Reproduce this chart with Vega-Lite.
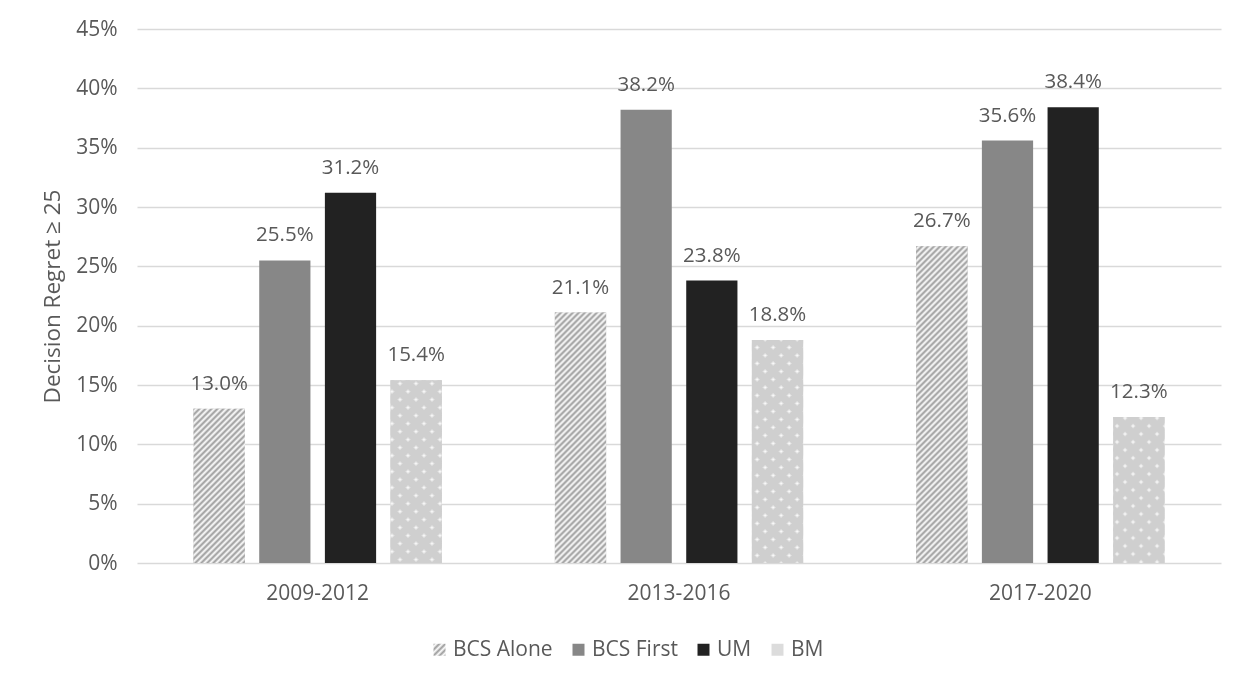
{
  "$schema": "https://vega.github.io/schema/vega-lite/v6.json",
  "width": 1084,
  "height": 534,
  "autosize": {"type": "none"},
  "padding": {"left": 137, "top": 29, "right": 26, "bottom": 123},
  "background": "white",
  "params": [
    {"name": "hatchStops", "value": [
      {"offset":0,"color":"#999"},{"offset":0.008,"color":"#fff"},{"offset":0.016,"color":"#999"},{"offset":0.024,"color":"#fff"},{"offset":0.032,"color":"#999"},{"offset":0.04,"color":"#fff"},{"offset":0.048,"color":"#999"},{"offset":0.056,"color":"#fff"},{"offset":0.064,"color":"#999"},{"offset":0.072,"color":"#fff"},{"offset":0.08,"color":"#999"},{"offset":0.088,"color":"#fff"},{"offset":0.096,"color":"#999"},{"offset":0.104,"color":"#fff"},{"offset":0.112,"color":"#999"},{"offset":0.12,"color":"#fff"},{"offset":0.128,"color":"#999"},{"offset":0.136,"color":"#fff"},{"offset":0.144,"color":"#999"},{"offset":0.152,"color":"#fff"},{"offset":0.16,"color":"#999"},{"offset":0.168,"color":"#fff"},{"offset":0.176,"color":"#999"},{"offset":0.184,"color":"#fff"},{"offset":0.192,"color":"#999"},
      {"offset":0.2,"color":"#fff"},{"offset":0.208,"color":"#999"},{"offset":0.216,"color":"#fff"},{"offset":0.224,"color":"#999"},{"offset":0.232,"color":"#fff"},{"offset":0.24,"color":"#999"},{"offset":0.248,"color":"#fff"},{"offset":0.256,"color":"#999"},{"offset":0.264,"color":"#fff"},{"offset":0.272,"color":"#999"},{"offset":0.28,"color":"#fff"},{"offset":0.288,"color":"#999"},{"offset":0.296,"color":"#fff"},{"offset":0.304,"color":"#999"},{"offset":0.312,"color":"#fff"},{"offset":0.32,"color":"#999"},{"offset":0.328,"color":"#fff"},{"offset":0.336,"color":"#999"},{"offset":0.344,"color":"#fff"},{"offset":0.352,"color":"#999"},{"offset":0.36,"color":"#fff"},{"offset":0.368,"color":"#999"},{"offset":0.376,"color":"#fff"},{"offset":0.384,"color":"#999"},{"offset":0.392,"color":"#fff"},
      {"offset":0.4,"color":"#999"},{"offset":0.408,"color":"#fff"},{"offset":0.416,"color":"#999"},{"offset":0.424,"color":"#fff"},{"offset":0.432,"color":"#999"},{"offset":0.44,"color":"#fff"},{"offset":0.448,"color":"#999"},{"offset":0.456,"color":"#fff"},{"offset":0.464,"color":"#999"},{"offset":0.472,"color":"#fff"},{"offset":0.48,"color":"#999"},{"offset":0.488,"color":"#fff"},{"offset":0.496,"color":"#999"},{"offset":0.504,"color":"#fff"},{"offset":0.512,"color":"#999"},{"offset":0.52,"color":"#fff"},{"offset":0.528,"color":"#999"},{"offset":0.536,"color":"#fff"},{"offset":0.544,"color":"#999"},{"offset":0.552,"color":"#fff"},{"offset":0.56,"color":"#999"},{"offset":0.568,"color":"#fff"},{"offset":0.576,"color":"#999"},{"offset":0.584,"color":"#fff"},{"offset":0.592,"color":"#999"},
      {"offset":0.6,"color":"#fff"},{"offset":0.608,"color":"#999"},{"offset":0.616,"color":"#fff"},{"offset":0.624,"color":"#999"},{"offset":0.632,"color":"#fff"},{"offset":0.64,"color":"#999"},{"offset":0.648,"color":"#fff"},{"offset":0.656,"color":"#999"},{"offset":0.664,"color":"#fff"},{"offset":0.672,"color":"#999"},{"offset":0.68,"color":"#fff"},{"offset":0.688,"color":"#999"},{"offset":0.696,"color":"#fff"},{"offset":0.704,"color":"#999"},{"offset":0.712,"color":"#fff"},{"offset":0.72,"color":"#999"},{"offset":0.728,"color":"#fff"},{"offset":0.736,"color":"#999"},{"offset":0.744,"color":"#fff"},{"offset":0.752,"color":"#999"},{"offset":0.76,"color":"#fff"},{"offset":0.768,"color":"#999"},{"offset":0.776,"color":"#fff"},{"offset":0.784,"color":"#999"},{"offset":0.792,"color":"#fff"},
      {"offset":0.8,"color":"#999"},{"offset":0.808,"color":"#fff"},{"offset":0.816,"color":"#999"},{"offset":0.824,"color":"#fff"},{"offset":0.832,"color":"#999"},{"offset":0.84,"color":"#fff"},{"offset":0.848,"color":"#999"},{"offset":0.856,"color":"#fff"},{"offset":0.864,"color":"#999"},{"offset":0.872,"color":"#fff"},{"offset":0.88,"color":"#999"},{"offset":0.888,"color":"#fff"},{"offset":0.896,"color":"#999"},{"offset":0.904,"color":"#fff"},{"offset":0.912,"color":"#999"},{"offset":0.92,"color":"#fff"},{"offset":0.928,"color":"#999"},{"offset":0.936,"color":"#fff"},{"offset":0.944,"color":"#999"},{"offset":0.952,"color":"#fff"},{"offset":0.96,"color":"#999"},{"offset":0.968,"color":"#fff"},{"offset":0.976,"color":"#999"},{"offset":0.984,"color":"#fff"},{"offset":0.992,"color":"#999"},{"offset":1,"color":"#fff"}
    ]},
    {"name": "dotStops", "value": [
      {"offset":0,"color":"#cfcfcf"},{"offset":0.03,"color":"#cfcfcf"},{"offset":0.04,"color":"#fff"},
      {"offset":0.05,"color":"#cfcfcf"},{"offset":0.08,"color":"#cfcfcf"},{"offset":0.09,"color":"#fff"},
      {"offset":0.1,"color":"#cfcfcf"},{"offset":0.13,"color":"#cfcfcf"},{"offset":0.14,"color":"#fff"},
      {"offset":0.15,"color":"#cfcfcf"},{"offset":0.18,"color":"#cfcfcf"},{"offset":0.19,"color":"#fff"},
      {"offset":0.2,"color":"#cfcfcf"},{"offset":0.23,"color":"#cfcfcf"},{"offset":0.24,"color":"#fff"},
      {"offset":0.25,"color":"#cfcfcf"},{"offset":0.28,"color":"#cfcfcf"},{"offset":0.29,"color":"#fff"},
      {"offset":0.3,"color":"#cfcfcf"},{"offset":0.33,"color":"#cfcfcf"},{"offset":0.34,"color":"#fff"},
      {"offset":0.35,"color":"#cfcfcf"},{"offset":0.38,"color":"#cfcfcf"},{"offset":0.39,"color":"#fff"},
      {"offset":0.4,"color":"#cfcfcf"},{"offset":0.43,"color":"#cfcfcf"},{"offset":0.44,"color":"#fff"},
      {"offset":0.45,"color":"#cfcfcf"},{"offset":0.48,"color":"#cfcfcf"},{"offset":0.49,"color":"#fff"},
      {"offset":0.5,"color":"#cfcfcf"},{"offset":0.53,"color":"#cfcfcf"},{"offset":0.54,"color":"#fff"},
      {"offset":0.55,"color":"#cfcfcf"},{"offset":0.58,"color":"#cfcfcf"},{"offset":0.59,"color":"#fff"},
      {"offset":0.6,"color":"#cfcfcf"},{"offset":0.63,"color":"#cfcfcf"},{"offset":0.64,"color":"#fff"},
      {"offset":0.65,"color":"#cfcfcf"},{"offset":0.68,"color":"#cfcfcf"},{"offset":0.69,"color":"#fff"},
      {"offset":0.7,"color":"#cfcfcf"},{"offset":0.73,"color":"#cfcfcf"},{"offset":0.74,"color":"#fff"},
      {"offset":0.75,"color":"#cfcfcf"},{"offset":0.78,"color":"#cfcfcf"},{"offset":0.79,"color":"#fff"},
      {"offset":0.8,"color":"#cfcfcf"},{"offset":0.83,"color":"#cfcfcf"},{"offset":0.84,"color":"#fff"},
      {"offset":0.85,"color":"#cfcfcf"},{"offset":0.88,"color":"#cfcfcf"},{"offset":0.89,"color":"#fff"},
      {"offset":0.9,"color":"#cfcfcf"},{"offset":0.93,"color":"#cfcfcf"},{"offset":0.94,"color":"#fff"},
      {"offset":0.95,"color":"#cfcfcf"},{"offset":0.98,"color":"#cfcfcf"},{"offset":0.99,"color":"#fff"},
      {"offset":1,"color":"#cfcfcf"}
    ]}
  ],
  "data": {"values": [
    {"p": "2009-2012", "g": "BCS Alone", "v": 0.130},
    {"p": "2009-2012", "g": "BCS First", "v": 0.255},
    {"p": "2009-2012", "g": "UM", "v": 0.312},
    {"p": "2009-2012", "g": "BM", "v": 0.154},
    {"p": "2013-2016", "g": "BCS Alone", "v": 0.211},
    {"p": "2013-2016", "g": "BCS First", "v": 0.382},
    {"p": "2013-2016", "g": "UM", "v": 0.238},
    {"p": "2013-2016", "g": "BM", "v": 0.188},
    {"p": "2017-2020", "g": "BCS Alone", "v": 0.267},
    {"p": "2017-2020", "g": "BCS First", "v": 0.356},
    {"p": "2017-2020", "g": "UM", "v": 0.384},
    {"p": "2017-2020", "g": "BM", "v": 0.123}
  ]},
  "encoding": {
    "x": {
      "field": "p", "type": "nominal", "sort": null,
      "scale": {"paddingInner": 0.313, "paddingOuter": 0.1565},
      "axis": {"title": null, "labelAngle": 0, "ticks": false, "tickSize": 0, "domain": false, "labelPadding": 19}
    },
    "xOffset": {
      "field": "g", "type": "nominal",
      "scale": {"domain": ["BCS Alone", "BCS First", "UM", "BM"], "paddingInner": 0.22, "paddingOuter": 0}
    },
    "y": {
      "field": "v", "type": "quantitative", "stack": null,
      "scale": {"domain": [0, 0.45], "nice": false},
      "axis": {
        "title": "Decision Regret ≥ 25",
        "format": ".0%",
        "values": [0, 0.05, 0.1, 0.15, 0.2, 0.25, 0.3, 0.35, 0.4, 0.45],
        "grid": true, "gridColor": "#d9d9d9", "gridWidth": 1.5,
        "domain": false, "ticks": false, "tickSize": 0,
        "labelPadding": 20, "titlePadding": 11, "titleFontSize": 22.5
      }
    }
  },
  "layer": [
    {
      "mark": {"type": "bar"},
      "encoding": {
        "color": {
          "field": "g", "type": "nominal",
          "scale": {"domain": ["BCS Alone", "BCS First", "UM", "BM"], "range": [
            {"expr": "{gradient:'linear', x1:0, y1:0, x2:15.625, y2:15.625, stops: hatchStops}"},
            "#878787", "#222222", "#dcdcdc"]},
          "legend": {
            "title": null, "orient": "none", "direction": "horizontal",
            "legendX": 292, "legendY": 610,
            "symbolType": "square", "symbolSize": 144, "symbolStrokeWidth": 0,
            "labelFont": "Open Sans", "labelFontSize": 21, "labelColor": "#595959",
            "labelOffset": 3, "columnPadding": 15
          }
        }
      }
    },
    {
      "transform": [{"filter": "datum.g === 'BCS Alone'"}],
      "mark": {"type": "bar", "fill": {"expr": "{gradient:'linear', x1:0, y1:0, x2: 375*bandwidth('xOffset')/(pow(bandwidth('xOffset'),2)+pow(scale('y',0)-scale('y',datum.v),2)), y2: 375*(scale('y',0)-scale('y',datum.v))/(pow(bandwidth('xOffset'),2)+pow(scale('y',0)-scale('y',datum.v),2)), stops: hatchStops}"}}
    },
    {
      "transform": [{"filter": "datum.g === 'BM'"}],
      "mark": {"type": "bar", "fill": {"expr": "{gradient:'linear', x1:0, y1:0, x2: 320*bandwidth('xOffset')/(pow(bandwidth('xOffset'),2)+pow(scale('y',0)-scale('y',datum.v),2)), y2: 320*(scale('y',0)-scale('y',datum.v))/(pow(bandwidth('xOffset'),2)+pow(scale('y',0)-scale('y',datum.v),2)), stops: dotStops}"}}
    },
    {
      "transform": [{"filter": "datum.g === 'BM'"}],
      "mark": {"type": "bar", "blend": "darken", "fill": {"expr": "{gradient:'linear', x1:0, y1:1, x2: 320*bandwidth('xOffset')/(pow(bandwidth('xOffset'),2)+pow(scale('y',0)-scale('y',datum.v),2)), y2: 1-320*(scale('y',0)-scale('y',datum.v))/(pow(bandwidth('xOffset'),2)+pow(scale('y',0)-scale('y',datum.v),2)), stops: dotStops}"}}
    },
    {
      "mark": {"type": "text", "baseline": "alphabetic", "dy": -19, "font": "Open Sans", "fontSize": 20.5, "color": "#595959"},
      "encoding": {"text": {"field": "v", "type": "quantitative", "format": ".1%"}}
    }
  ],
  "config": {
    "view": {"stroke": null},
    "font": "Open Sans",
    "axis": {
      "labelFont": "Open Sans", "labelFontSize": 21, "labelColor": "#595959",
      "titleFont": "Open Sans", "titleFontSize": 22.5, "titleFontWeight": "normal", "titleColor": "#595959"
    }
  }
}
